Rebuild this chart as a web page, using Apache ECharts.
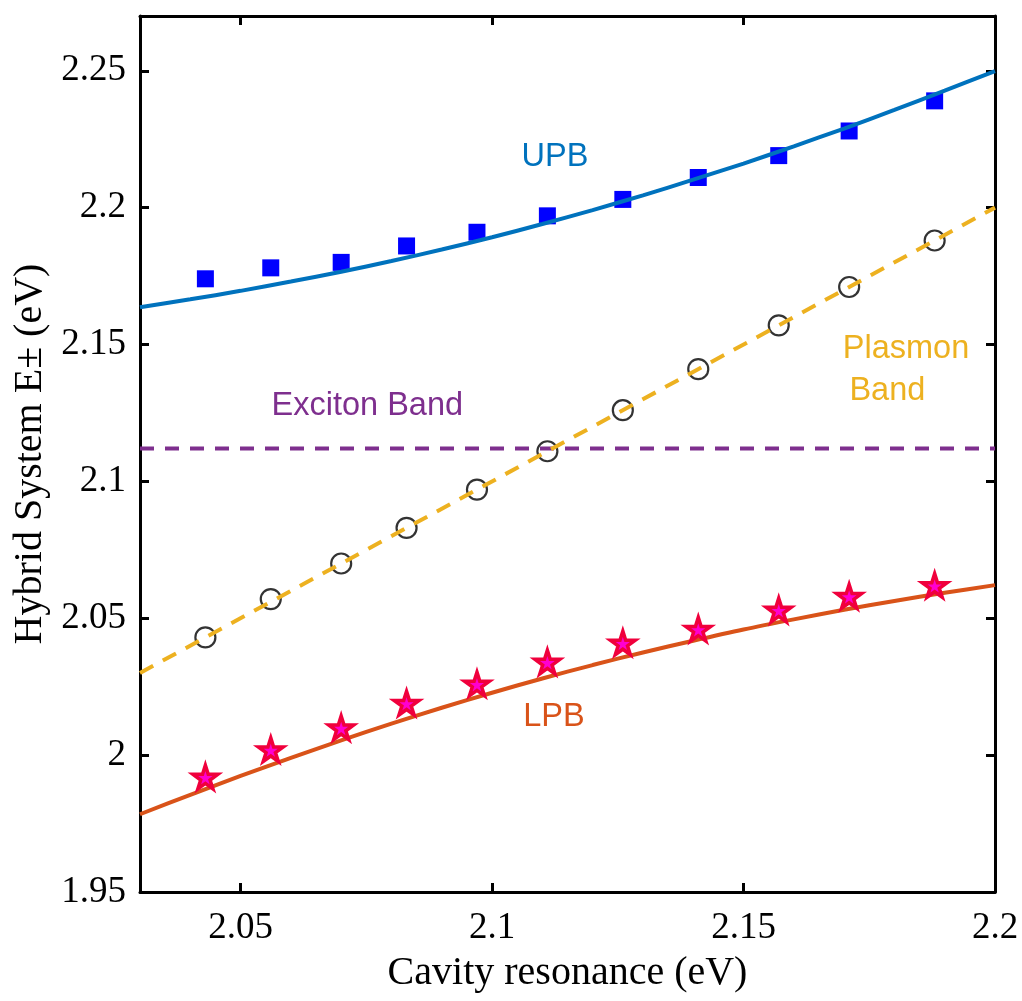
<!DOCTYPE html>
<html>
<head>
    <meta charset="utf-8">
    <title>Hybrid System</title>
    <script src="https://cdn.jsdelivr.net/npm/echarts@6/dist/echarts.min.js"></script>
    <style type="text/css">
        * {
            margin: 0px;
            padding: 0px;
        }

        #main {
            position: absolute;
            width: 1022px;
            height: 1001px;
            background: #fff;
        }
    </style>
</head>
<body>
<div id="main"></div>
<script type="text/javascript">
    var fitX = [2.03, 2.04, 2.05, 2.06, 2.07, 2.08, 2.09, 2.10, 2.11, 2.12, 2.13, 2.14, 2.15, 2.16, 2.17, 2.18, 2.19, 2.20];
    var upbFit = [2.1636, 2.1665, 2.1696, 2.1730, 2.1766, 2.1805, 2.1847, 2.1892, 2.1940, 2.1991, 2.2045, 2.2102, 2.2161, 2.2224, 2.2289, 2.2357, 2.2427, 2.2499];
    var lpbFit = [1.9784, 1.9855, 1.9924, 1.9990, 2.0054, 2.0115, 2.0173, 2.0228, 2.0280, 2.0329, 2.0375, 2.0418, 2.0459, 2.0496, 2.0531, 2.0563, 2.0593, 2.0621];

    // measured points
    var cavity = [2.043, 2.056, 2.070, 2.083, 2.097, 2.111, 2.126, 2.141, 2.157, 2.171, 2.188];
    var upbPts = [2.174, 2.178, 2.180, 2.186, 2.191, 2.197, 2.203, 2.211, 2.219, 2.228, 2.239];
    var plasmonPts = [2.043, 2.057, 2.070, 2.083, 2.097, 2.111, 2.126, 2.141, 2.157, 2.171, 2.188];
    var lpbPts = [1.992, 2.002, 2.010, 2.019, 2.026, 2.034, 2.041, 2.046, 2.053, 2.058, 2.062];

    // straight bands
    var plasmonLineX = [2.03, 2.20];
    var plasmonLineY = [2.03, 2.20];
    var excitonLineX = [2.03, 2.20];
    var excitonLineY = [2.112, 2.112];

    // tick labels
    var xTicks = [2.05, 2.1, 2.15, 2.2];
    var yTicks = [1.95, 2, 2.05, 2.1, 2.15, 2.2, 2.25];

    function pairs(xs, ys) {
        var out = [];
        for (var i = 0; i < xs.length; i++) out.push([xs[i], ys[i]]);
        return out;
    }

    var serif = 'Liberation Serif';
    var sans = 'Liberation Sans';
    var starPath = 'path://M50,0 L61,35 L98,35 L68,57 L79,91 L50,70 L21,91 L32,57 L2,35 L39,35 Z';

    var axisLine = {show: true, lineStyle: {color: '#000', width: 3}};

    var myChart = echarts.init(document.getElementById('main'));

    var option = {
        animation: false,
        backgroundColor: '#fff',
        grid: {left: 140, right: 27, top: 16, bottom: 109},
        xAxis: [{
            type: 'value', min: 2.03, max: 2.2, position: 'bottom',
            name: 'Cavity resonance (eV)', nameLocation: 'middle', nameGap: 61,
            nameTextStyle: {fontFamily: serif, fontSize: 40, color: '#000'},
            axisLine: axisLine,
            axisTick: {inside: true, length: 9, customValues: xTicks, lineStyle: {width: 3, color: '#000'}},
            axisLabel: {customValues: xTicks, fontFamily: serif, fontSize: 37, color: '#000', margin: 18,
                formatter: function (v) { return String(v); }},
            splitLine: {show: false}
        }, {
            type: 'value', min: 2.03, max: 2.2, position: 'top',
            axisLine: axisLine,
            axisTick: {inside: true, length: 9, customValues: xTicks, lineStyle: {width: 3, color: '#000'}},
            axisLabel: {show: false},
            splitLine: {show: false}
        }],
        yAxis: [{
            type: 'value', min: 1.95, max: 2.27, position: 'left',
            name: 'Hybrid System E\u00b1 (eV)', nameLocation: 'middle', nameGap: 90,
            nameTextStyle: {fontFamily: serif, fontSize: 40, color: '#000'},
            axisLine: axisLine,
            axisTick: {inside: true, length: 9, customValues: yTicks, lineStyle: {width: 3, color: '#000'}},
            axisLabel: {customValues: yTicks, fontFamily: serif, fontSize: 37, color: '#000', margin: 14,
                formatter: function (v) { return String(v); }},
            splitLine: {show: false}
        }, {
            type: 'value', min: 1.95, max: 2.27, position: 'right',
            axisLine: axisLine,
            axisTick: {inside: true, length: 9, customValues: yTicks, lineStyle: {width: 3, color: '#000'}},
            axisLabel: {show: false},
            splitLine: {show: false}
        }],
        series: [
            {
                name: 'Exciton Band', type: 'line', data: pairs(excitonLineX, excitonLineY),
                showSymbol: false, lineStyle: {color: '#7E2F8E', width: 4, type: [14, 11]}, z: 2
            },
            {
                name: 'Plasmon pts', type: 'scatter', data: pairs(cavity, plasmonPts),
                symbol: 'circle', symbolSize: 20,
                itemStyle: {color: 'rgba(0,0,0,0)', borderColor: '#000', borderWidth: 2.2}, z: 2
            },
            {
                name: 'Plasmon Band', type: 'line', data: pairs(plasmonLineX, plasmonLineY),
                showSymbol: false, lineStyle: {color: '#EDB120', width: 4, type: [15, 11]}, z: 3
            },
            {
                name: 'UPB fit', type: 'line', data: pairs(fitX, upbFit), smooth: 0.3,
                showSymbol: false, lineStyle: {color: '#0072BD', width: 4}, z: 3
            },
            {
                name: 'LPB fit', type: 'line', data: pairs(fitX, lpbFit), smooth: 0.3,
                showSymbol: false, lineStyle: {color: '#D95319', width: 4}, z: 3
            },
            {
                name: 'UPB', type: 'scatter', data: pairs(cavity, upbPts),
                symbol: 'rect', symbolSize: 17, itemStyle: {color: '#0000FF', opacity: 1}, z: 2
            },
            {
                name: 'LPB', type: 'scatter', data: pairs(cavity, lpbPts),
                symbol: starPath, symbolSize: 25, symbolKeepAspect: true,
                itemStyle: {color: '#FF00D0', borderColor: '#F0003C', borderWidth: 3.5, opacity: 1}, z: 4
            }
        ]
    };

    myChart.setOption(option);

    // text notes placed in data coordinates
    var notes = [
        {text: 'UPB', at: [2.1125, 2.2185], color: '#0072BD'},
        {text: 'Exciton Band', at: [2.0752, 2.1275], color: '#7E2F8E'},
        {text: 'Plasmon', at: [2.1823, 2.1484], color: '#EDB120'},
        {text: 'Band', at: [2.1786, 2.1330], color: '#EDB120'},
        {text: 'LPB', at: [2.1123, 2.0140], color: '#D95319'}
    ];
    var graphics = notes.map(function (n) {
        var p = myChart.convertToPixel({xAxisIndex: 0, yAxisIndex: 0}, n.at);
        return {
            type: 'text', x: p[0], y: p[1], z: 10,
            style: {text: n.text, fill: n.color, font: '32.5px ' + sans, align: 'center', verticalAlign: 'middle'}
        };
    });
    myChart.setOption({graphic: graphics});
</script>
</body>
</html>
